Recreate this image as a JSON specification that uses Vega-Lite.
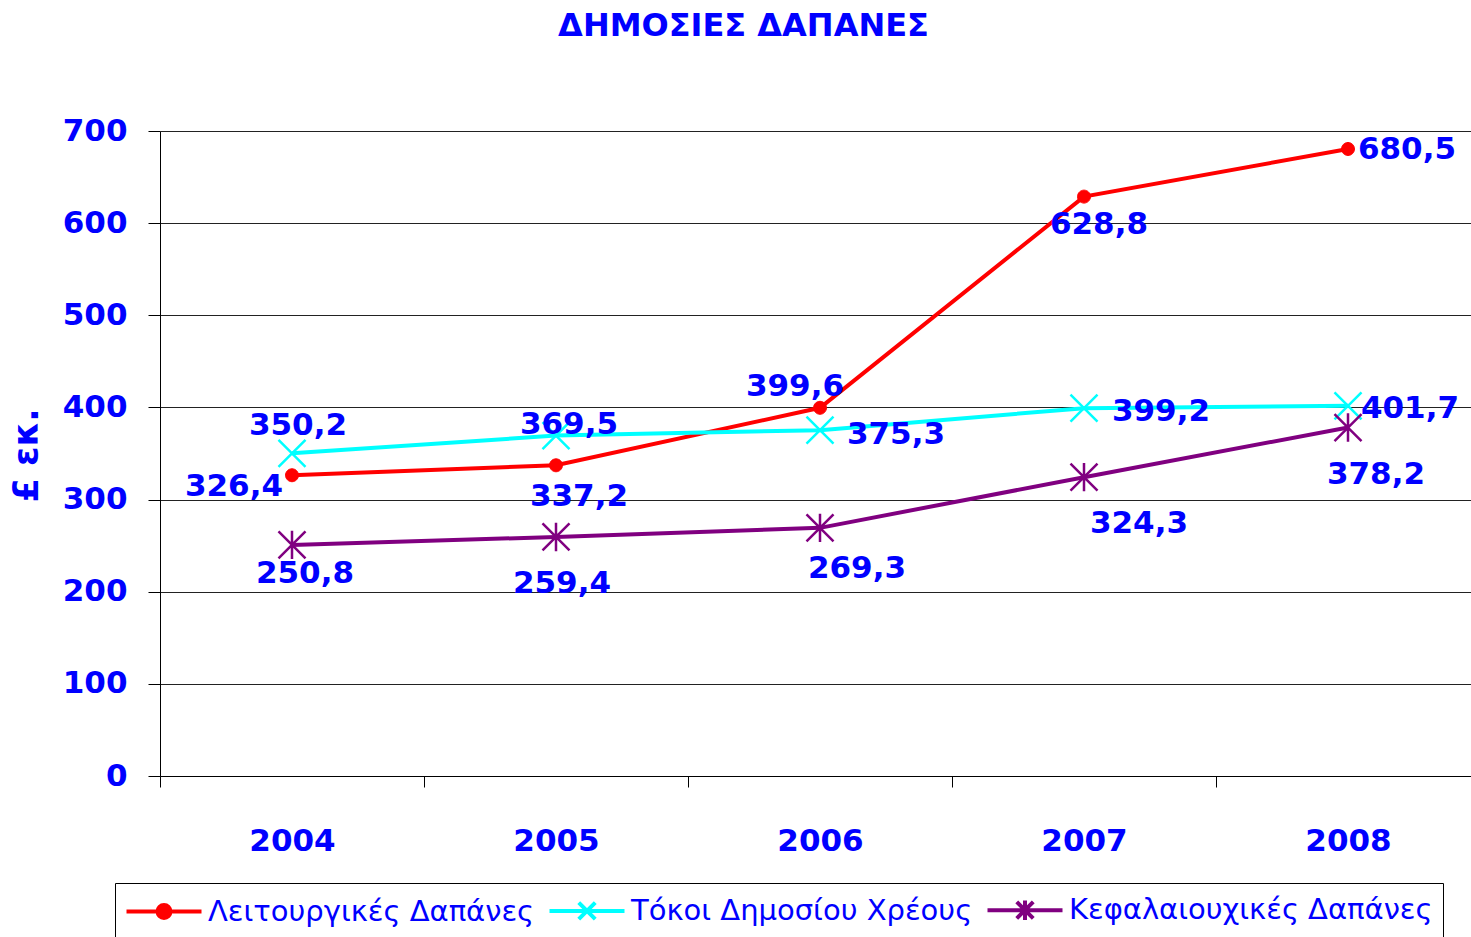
{
  "$schema": "https://vega.github.io/schema/vega-lite/v6.json",
  "autosize": "none",
  "width": 1311,
  "height": 645,
  "padding": {"left": 160, "top": 131, "right": 0, "bottom": 161},
  "background": "white",
  "title": {"text": "ΔΗΜΟΣΙΕΣ ΔΑΠΑΝΕΣ", "fontSize": 32, "font": "DejaVu Sans", "fontWeight": "bold", "color": "#0000FF", "anchor": "middle", "frame": "group", "dx": -72, "offset": 72},
  "config": {
    "view": {"stroke": null},
    "locale": {"number": {"decimal": ",", "thousands": ".", "grouping": [3], "currency": ["€", ""]}}
  },
  "data": {"values": [
    {"year": "2004", "series": "Λειτουργικές Δαπάνες", "value": 326.4},
    {"year": "2005", "series": "Λειτουργικές Δαπάνες", "value": 337.2},
    {"year": "2006", "series": "Λειτουργικές Δαπάνες", "value": 399.6},
    {"year": "2007", "series": "Λειτουργικές Δαπάνες", "value": 628.8},
    {"year": "2008", "series": "Λειτουργικές Δαπάνες", "value": 680.5},
    {"year": "2004", "series": "Τόκοι Δημοσίου Χρέους", "value": 350.2},
    {"year": "2005", "series": "Τόκοι Δημοσίου Χρέους", "value": 369.5},
    {"year": "2006", "series": "Τόκοι Δημοσίου Χρέους", "value": 375.3},
    {"year": "2007", "series": "Τόκοι Δημοσίου Χρέους", "value": 399.2},
    {"year": "2008", "series": "Τόκοι Δημοσίου Χρέους", "value": 401.7},
    {"year": "2004", "series": "Κεφαλαιουχικές Δαπάνες", "value": 250.8},
    {"year": "2005", "series": "Κεφαλαιουχικές Δαπάνες", "value": 259.4},
    {"year": "2006", "series": "Κεφαλαιουχικές Δαπάνες", "value": 269.3},
    {"year": "2007", "series": "Κεφαλαιουχικές Δαπάνες", "value": 324.3},
    {"year": "2008", "series": "Κεφαλαιουχικές Δαπάνες", "value": 378.2}
  ]},
  "encoding": {
    "x": {
      "field": "year", "type": "ordinal",
      "scale": {"type": "band", "paddingInner": 0, "paddingOuter": 0, "range": [0, 1320]},
      "axis": {"title": null, "labelAngle": 0, "tickBand": "extent", "tickSize": 11, "tickColor": "#000", "domainColor": "#000", "labelFont": "DejaVu Sans", "labelFontSize": 31, "labelFontWeight": "bold", "labelColor": "#0000FF", "labelPadding": 39, "grid": false}
    },
    "y": {
      "field": "value", "type": "quantitative",
      "scale": {"domain": [0, 700], "nice": false},
      "axis": {"title": "£ εκ.", "values": [0, 100, 200, 300, 400, 500, 600, 700], "grid": true, "gridColor": "#222", "gridWidth": 1, "tickSize": 12, "tickColor": "#000", "domainColor": "#000", "labelFont": "DejaVu Sans", "labelFontSize": 31, "labelFontWeight": "bold", "labelColor": "#0000FF", "labelPadding": 21, "titleFont": "DejaVu Sans", "titleFontSize": 35, "titleFontWeight": "bold", "titleColor": "#0000FF", "titleX": -116, "titleY": 324, "titleAngle": -90, "titleBaseline": "bottom", "titleAlign": "center"}
    }
  },
  "layer": [
    {
      "mark": {"type": "line", "strokeWidth": 4},
      "encoding": {
        "color": {
          "field": "series", "type": "nominal",
          "scale": {"domain": ["Λειτουργικές Δαπάνες", "Τόκοι Δημοσίου Χρέους", "Κεφαλαιουχικές Δαπάνες"], "range": ["#FF0000", "#00FFFF", "#800080"]},
          "legend": {
            "title": null, "orient": "none", "legendX": -45, "legendY": 752, "direction": "horizontal",
            "labelFont": "DejaVu Sans", "labelFontSize": 29, "labelColor": "#0000FF", "labelLimit": 800,
            "symbolSize": 900, "symbolStrokeWidth": 4, "symbolOffset": 22, "labelOffset": 27, "columnPadding": 6,
            "padding": 10, "strokeColor": "#000", "fillColor": "#fff",
            "encode": {"symbols": {"update": {
              "shape": {"signal": "datum.value === 'Λειτουργικές Δαπάνες' ? 'M-2.5,0L2.5,0M-0.43,0A0.43,0.43,0,1,1,0.43,0A0.43,0.43,0,1,1,-0.43,0Z' : datum.value === 'Τόκοι Δημοσίου Χρέους' ? 'M-2.5,0L2.5,0M-0.55,-0.55L0.55,0.55M-0.55,0.55L0.55,-0.55' : 'M-2.5,0L2.5,0M-0.55,-0.55L0.55,0.55M-0.55,0.55L0.55,-0.55M0,-0.65L0,0.65'"},
              "fill": {"signal": "datum.value === 'Λειτουργικές Δαπάνες' ? '#FF0000' : 'transparent'"},
              "strokeWidth": {"value": 4},
              "opacity": {"value": 1}
            }}}
          }
        }
      }
    },
    {
      "transform": [{"filter": "datum.series === 'Λειτουργικές Δαπάνες'"}],
      "mark": {"type": "point", "filled": true, "color": "#FF0000", "stroke": "#FF0000", "strokeWidth": 1, "opacity": 1, "size": 729, "shape": "M-0.48,0A0.48,0.48,0,1,1,0.48,0A0.48,0.48,0,1,1,-0.48,0Z"}
    },
    {
      "transform": [{"filter": "datum.series === 'Τόκοι Δημοσίου Χρέους'"}],
      "mark": {"type": "point", "filled": false, "color": "#00FFFF", "stroke": "#00FFFF", "strokeWidth": 2.5, "opacity": 1, "size": 729, "shape": "M-1,-1L1,1M-1,1L1,-1"}
    },
    {
      "transform": [{"filter": "datum.series === 'Κεφαλαιουχικές Δαπάνες'"}],
      "mark": {"type": "point", "filled": false, "color": "#800080", "stroke": "#800080", "strokeWidth": 2.5, "opacity": 1, "size": 729, "shape": "M-1,-1L1,1M-1,1L1,-1M0,-1.05L0,1.05"}
    },
    {
      "mark": {"type": "text"},
      "encoding": {
        "text": {"field": "value", "type": "quantitative", "format": ".1f"}
      },
      "layer": [
        {"transform": [{"filter": "datum.value == 326.4"}], "mark": {"type": "text", "dx": -58, "dy": 12, "font": "DejaVu Sans", "fontSize": 31, "fontWeight": "bold", "color": "#0000FF", "align": "center", "baseline": "middle"}},
        {"transform": [{"filter": "datum.value == 337.2"}], "mark": {"type": "text", "dx": 23, "dy": 32, "font": "DejaVu Sans", "fontSize": 31, "fontWeight": "bold", "color": "#0000FF", "align": "center", "baseline": "middle"}},
        {"transform": [{"filter": "datum.value == 399.6"}], "mark": {"type": "text", "dx": -25, "dy": -21, "font": "DejaVu Sans", "fontSize": 31, "fontWeight": "bold", "color": "#0000FF", "align": "center", "baseline": "middle"}},
        {"transform": [{"filter": "datum.value == 628.8"}], "mark": {"type": "text", "dx": 15, "dy": 28, "font": "DejaVu Sans", "fontSize": 31, "fontWeight": "bold", "color": "#0000FF", "align": "center", "baseline": "middle"}},
        {"transform": [{"filter": "datum.value == 680.5"}], "mark": {"type": "text", "dx": 59, "dy": 1, "font": "DejaVu Sans", "fontSize": 31, "fontWeight": "bold", "color": "#0000FF", "align": "center", "baseline": "middle"}},
        {"transform": [{"filter": "datum.value == 350.2"}], "mark": {"type": "text", "dx": 6, "dy": -27, "font": "DejaVu Sans", "fontSize": 31, "fontWeight": "bold", "color": "#0000FF", "align": "center", "baseline": "middle"}},
        {"transform": [{"filter": "datum.value == 369.5"}], "mark": {"type": "text", "dx": 13, "dy": -11, "font": "DejaVu Sans", "fontSize": 31, "fontWeight": "bold", "color": "#0000FF", "align": "center", "baseline": "middle"}},
        {"transform": [{"filter": "datum.value == 375.3"}], "mark": {"type": "text", "dx": 76, "dy": 5, "font": "DejaVu Sans", "fontSize": 31, "fontWeight": "bold", "color": "#0000FF", "align": "center", "baseline": "middle"}},
        {"transform": [{"filter": "datum.value == 399.2"}], "mark": {"type": "text", "dx": 77, "dy": 4, "font": "DejaVu Sans", "fontSize": 31, "fontWeight": "bold", "color": "#0000FF", "align": "center", "baseline": "middle"}},
        {"transform": [{"filter": "datum.value == 401.7"}], "mark": {"type": "text", "dx": 62, "dy": 3, "font": "DejaVu Sans", "fontSize": 31, "fontWeight": "bold", "color": "#0000FF", "align": "center", "baseline": "middle"}},
        {"transform": [{"filter": "datum.value == 250.8"}], "mark": {"type": "text", "dx": 13, "dy": 29, "font": "DejaVu Sans", "fontSize": 31, "fontWeight": "bold", "color": "#0000FF", "align": "center", "baseline": "middle"}},
        {"transform": [{"filter": "datum.value == 259.4"}], "mark": {"type": "text", "dx": 6, "dy": 47, "font": "DejaVu Sans", "fontSize": 31, "fontWeight": "bold", "color": "#0000FF", "align": "center", "baseline": "middle"}},
        {"transform": [{"filter": "datum.value == 269.3"}], "mark": {"type": "text", "dx": 37, "dy": 41, "font": "DejaVu Sans", "fontSize": 31, "fontWeight": "bold", "color": "#0000FF", "align": "center", "baseline": "middle"}},
        {"transform": [{"filter": "datum.value == 324.3"}], "mark": {"type": "text", "dx": 55, "dy": 47, "font": "DejaVu Sans", "fontSize": 31, "fontWeight": "bold", "color": "#0000FF", "align": "center", "baseline": "middle"}},
        {"transform": [{"filter": "datum.value == 378.2"}], "mark": {"type": "text", "dx": 28, "dy": 47, "font": "DejaVu Sans", "fontSize": 31, "fontWeight": "bold", "color": "#0000FF", "align": "center", "baseline": "middle"}}
      ]
    }
  ]
}
